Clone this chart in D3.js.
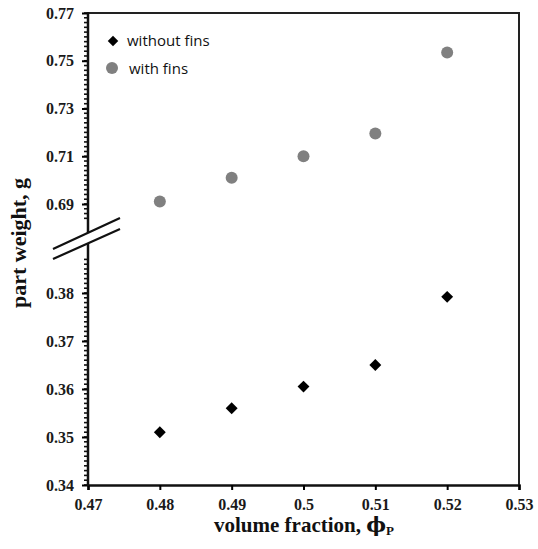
<!DOCTYPE html>
<html>
<head>
<meta charset="utf-8">
<script src="https://cdn.jsdelivr.net/npm/d3@7"></script>
<style>
  body { margin: 0; background: #fff; }
  svg { display: block; }
</style>
</head>
<body>
<svg id="chart" width="538" height="549"></svg>
<script>
// data
const fractions = [0.48, 0.49, 0.50, 0.51, 0.52];
const withoutFins = [0.351, 0.356, 0.3605, 0.365, 0.3792];
const withFins = [0.691, 0.701, 0.710, 0.7195, 0.7535];
const xTicks = [0.47, 0.48, 0.49, 0.5, 0.51, 0.52, 0.53];
const upperTicks = [0.69, 0.71, 0.73, 0.75, 0.77];
const lowerTicks = [0.34, 0.35, 0.36, 0.37, 0.38];
const seriesNames = ["without fins", "with fins"];

const svg = d3.select("#chart");
const plotLeft = 88, plotRight = 519, plotTop = 13, plotBottom = 485;
const breakY = 238;

const x = d3.scaleLinear().domain([0.47, 0.53]).range([plotLeft, plotRight]);
const yUp = d3.scaleLinear().domain([0.69, 0.77]).range([204, plotTop]);
const yLow = d3.scaleLinear().domain([0.34, 0.38]).range([plotBottom, 293]);

const serif = "'Liberation Serif', 'Times New Roman', serif";
const sans = "'Open Sans', 'Noto Sans', sans-serif";

// frame: top and right sides
svg.append("path")
  .attr("d", `M${plotLeft},${plotTop}H${plotRight}V${plotBottom}`)
  .attr("fill", "none").attr("stroke", "#222").attr("stroke-width", 2);

function styleText(g) {
  g.selectAll("text").attr("font-family", serif).attr("font-weight", "bold")
    .attr("font-size", 16).attr("fill", "#1a1a1a");
}

// x axis
const xAxis = d3.axisBottom(x).tickValues(xTicks).tickSize(5).tickPadding(9)
  .tickFormat(d => d3.format("")(+d.toFixed(2)));
svg.append("g").attr("transform", `translate(0,${plotBottom})`).call(xAxis)
  .call(g => g.select(".domain").attr("stroke", "#111").attr("stroke-width", 2.5))
  .call(g => g.selectAll("line").attr("stroke-width", 2))
  .call(styleText);

// y axis, upper part
const upMinor = d3.range(0.684, 0.7701, 0.002);
svg.append("g").selectAll("line").data(upMinor).join("line")
  .attr("x1", plotLeft - 4).attr("x2", plotLeft)
  .attr("y1", d => yUp(d)).attr("y2", d => yUp(d))
  .attr("stroke", "#111").attr("stroke-width", 1.6);
svg.append("g").attr("transform", `translate(${plotLeft},0)`)
  .call(d3.axisLeft(yUp).tickValues(upperTicks).tickSize(6).tickPadding(8).tickFormat(d3.format(".2f")))
  .call(g => g.select(".domain").remove())
  .call(g => g.selectAll("line").attr("stroke-width", 2))
  .call(styleText);
svg.append("line").attr("x1", plotLeft).attr("x2", plotLeft).attr("y1", plotTop - 1).attr("y2", breakY)
  .attr("stroke", "#111").attr("stroke-width", 2.5);

// y axis, lower part
const lowMinor = d3.range(0.34, 0.3871, 0.001);
svg.append("g").selectAll("line").data(lowMinor).join("line")
  .attr("x1", plotLeft - 4).attr("x2", plotLeft)
  .attr("y1", d => yLow(d)).attr("y2", d => yLow(d))
  .attr("stroke", "#111").attr("stroke-width", 1.6);
svg.append("g").attr("transform", `translate(${plotLeft},0)`)
  .call(d3.axisLeft(yLow).tickValues(lowerTicks).tickSize(6).tickPadding(8).tickFormat(d3.format(".2f")))
  .call(g => g.select(".domain").remove())
  .call(g => g.selectAll("line").attr("stroke-width", 2))
  .call(styleText);
svg.append("line").attr("x1", plotLeft).attr("x2", plotLeft).attr("y1", breakY).attr("y2", plotBottom + 1)
  .attr("stroke", "#111").attr("stroke-width", 2.5);

// axis break
svg.append("path")
  .attr("d", "M53,249L120,218L120,229L53,259Z")
  .attr("fill", "#fff");
svg.append("path")
  .attr("d", "M53,249L120,218M53,259L120,229")
  .attr("stroke", "#111").attr("stroke-width", 2.2).attr("fill", "none");

// points
const pts = svg.append("g");
pts.selectAll(".wo").data(fractions).join("path").attr("class", "wo")
  .attr("d", d3.symbol(d3.symbolDiamond2, 90))
  .attr("transform", (d, i) => `translate(${x(d)},${yLow(withoutFins[i])})`)
  .attr("fill", "#000");
pts.selectAll(".wi").data(fractions).join("circle").attr("class", "wi")
  .attr("cx", d => x(d)).attr("cy", (d, i) => yUp(withFins[i]))
  .attr("r", 6).attr("fill", "#808080");

// legend
const lg = svg.append("g").attr("font-family", sans).attr("font-size", 15).attr("fill", "#111");
lg.append("path").attr("d", d3.symbol(d3.symbolDiamond2, 70))
  .attr("transform", "translate(113,41)").attr("fill", "#000");
lg.append("text").attr("x", 127).attr("y", 46).text(seriesNames[0]);
lg.append("circle").attr("cx", 112).attr("cy", 68).attr("r", 6).attr("fill", "#808080");
lg.append("text").attr("x", 129).attr("y", 74).text(seriesNames[1]);

// axis titles
const xt = svg.append("text").attr("x", 304).attr("y", 532).attr("text-anchor", "middle")
  .attr("font-family", serif).attr("font-weight", "bold").attr("font-size", 21).attr("fill", "#111");
xt.append("tspan").text("volume fraction, ");
xt.append("tspan").attr("font-family", "'DejaVu Serif', serif").text("\u03D5");
xt.append("tspan").attr("font-size", 13).attr("dy", 3).text("P");

svg.append("text")
  .attr("transform", "translate(26,243) rotate(-90)")
  .attr("text-anchor", "middle")
  .attr("font-family", serif).attr("font-weight", "bold").attr("font-size", 22).attr("fill", "#111")
  .text("part weight, g");
</script>
</body>
</html>
